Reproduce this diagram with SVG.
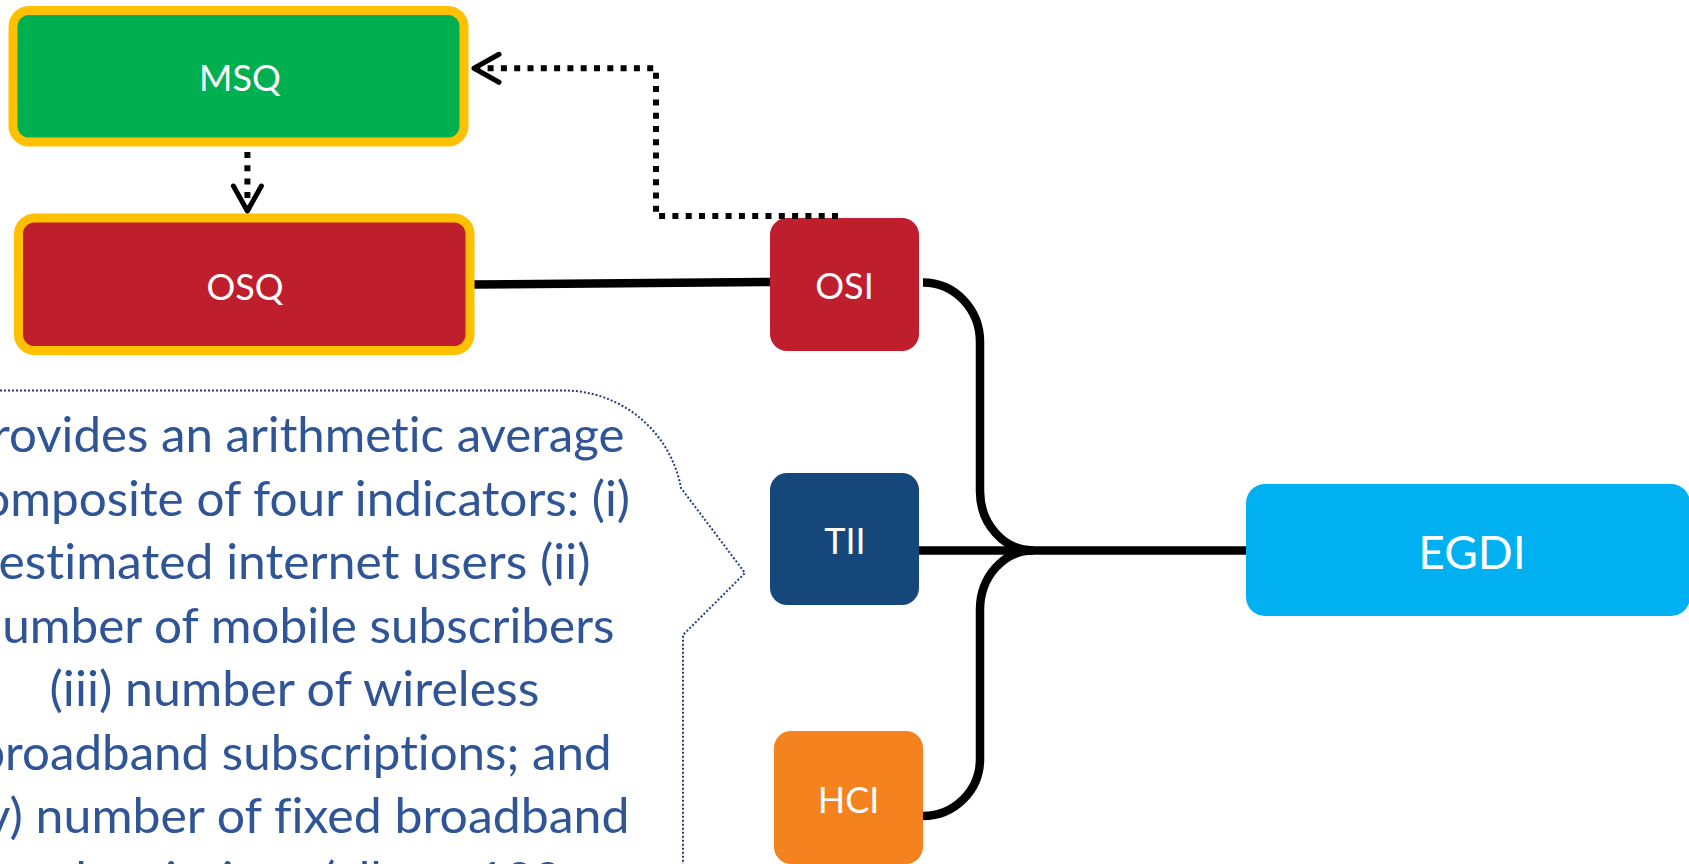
<svg xmlns="http://www.w3.org/2000/svg" width="1689" height="864" viewBox="0 0 1689 864">
  <defs>
    <style>
      .lbl { font-family: Lato, "Open Sans", "Liberation Sans", sans-serif; fill: #ffffff; text-anchor: middle; font-variant-ligatures: none; }
      .small { font-size: 36px; }
      .big { font-size: 46px; }
      .note { font-family: Lato, "Open Sans", "Liberation Sans", sans-serif; font-size: 49px; fill: #2F5597; text-anchor: middle; font-variant-ligatures: none; font-feature-settings: "liga" 0, "clig" 0; }
      .solid { fill: none; stroke: #000000; stroke-width: 8.5; }
      .dotted { fill: none; stroke: #000000; stroke-width: 6; stroke-dasharray: 6 7.3; }
    </style>
    <marker id="openArrow" markerUnits="userSpaceOnUse" markerWidth="40" markerHeight="40" viewBox="-30 -20 40 40" refX="0" refY="0" orient="auto" overflow="visible">
      <path d="M -25 -14 L 0 0 L -25 14" fill="none" stroke="#000000" stroke-width="5" stroke-dasharray="none" stroke-linejoin="round" stroke-linecap="round"/>
    </marker>
  </defs>

  <rect x="0" y="0" width="1689" height="864" fill="#ffffff"/>

  <g id="note">
    <path d="M -20 390.5 H 564 A 119 119 0 0 1 681 488 L 745 573 L 683 635 V 880" fill="none" stroke="#243F73" stroke-width="2" stroke-dasharray="2 2"/>
    <text class="note" x="294.5" y="452" textLength="660" lengthAdjust="spacingAndGlyphs">provides an arithmetic average</text>
    <text class="note" x="294.5" y="515.6" textLength="671" lengthAdjust="spacingAndGlyphs">composite of four indicators: (i)</text>
    <text class="note" x="294.5" y="579.1" textLength="592" lengthAdjust="spacingAndGlyphs">estimated internet users (ii)</text>
    <text class="note" x="294.5" y="642.7" textLength="640" lengthAdjust="spacingAndGlyphs">number of mobile subscribers</text>
    <text class="note" x="294.5" y="706.2" textLength="490" lengthAdjust="spacingAndGlyphs">(iii) number of wireless</text>
    <text class="note" x="294.5" y="769.8" textLength="634" lengthAdjust="spacingAndGlyphs">broadband subscriptions; and</text>
    <text class="note" x="294.5" y="833.3" textLength="670" lengthAdjust="spacingAndGlyphs">(iv) number of fixed broadband</text>
    <text class="note" x="294.5" y="896.9" textLength="535" lengthAdjust="spacingAndGlyphs">subscriptions (all per 100</text>
  </g>

  <g id="node-MSQ">
    <rect x="13" y="10.5" width="451" height="131.5" rx="16" ry="16" fill="#00B050" stroke="#FFC000" stroke-width="9"/>
    <text class="lbl small" x="240" y="90.5">MSQ</text>
  </g>
  <g id="node-OSQ">
    <rect x="18.5" y="218" width="451.5" height="132.5" rx="16" ry="16" fill="#BF1E2D" stroke="#FFC000" stroke-width="9"/>
    <text class="lbl small" x="245" y="299.5">OSQ</text>
  </g>
  <g id="node-OSI">
    <rect x="770" y="218" width="149" height="133" rx="17" ry="17" fill="#BF1E2D"/>
    <text class="lbl small" x="844.5" y="299">OSI</text>
  </g>
  <g id="node-TII">
    <rect x="770" y="473" width="149" height="132" rx="17" ry="17" fill="#15477A"/>
    <text class="lbl small" x="845" y="553.6">TII</text>
  </g>
  <g id="node-HCI">
    <rect x="774" y="731" width="149" height="133" rx="17" ry="17" fill="#F4831F"/>
    <text class="lbl small" x="848.5" y="813">HCI</text>
  </g>
  <g id="node-EGDI">
    <rect x="1246" y="484" width="444" height="132" rx="19" ry="19" fill="#00B0F0"/>
    <text class="lbl big" x="1472" y="569">EGDI</text>
  </g>

  <g id="connectors">
    <path class="solid" d="M 474.5 284.5 L 770 282"/>
    <path class="solid" d="M 923 282.5 C 954.5 282.5 980 309.1 980 342 V 491 C 980 523.8 1003.7 550.4 1033 550.4"/>
    <path class="solid" d="M 919 550.4 H 1246"/>
    <path class="solid" d="M 923 816 C 954.5 816 980 790.5 980 759 V 609.7 C 980 577 1003.7 550.4 1033 550.4"/>
    <path class="dotted" d="M 247.4 152 V 211" marker-end="url(#openArrow)"/>
    <path class="dotted" d="M 838 216 H 656 V 68.3 H 474" marker-end="url(#openArrow)"/>
  </g>
</svg>
